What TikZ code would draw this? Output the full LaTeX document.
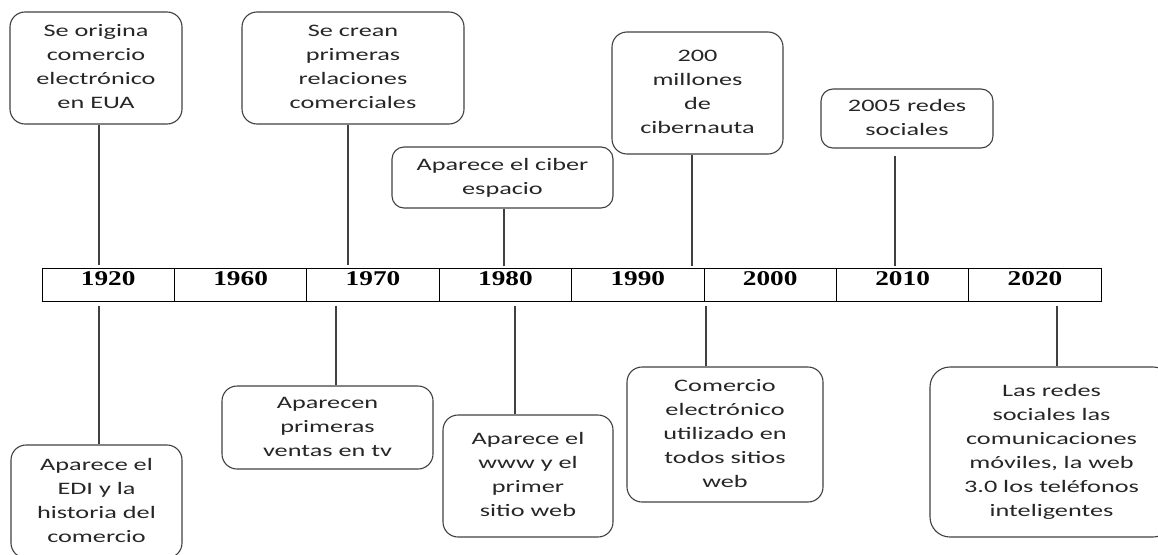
\documentclass[tikz,border=0pt]{standalone}
\usepackage{fontspec}
\setmainfont{Carlito}
\newfontfamily\yearfont{Liberation Serif}
\usepackage{graphicx}

% text of the event boxes, a little wider than tall
\newcommand{\evtext}[1]{\scalebox{1.5}[1]{\begin{tabular}{@{}c@{}}#1\end{tabular}}}
\newcommand{\yeartext}[1]{\scalebox{1.3}[1]{#1}}

\tikzset{
  event/.style={draw=black!75, line width=1.1pt, rounded corners=15pt, inner sep=0pt,
    font=\fontsize{17.5}{24}\selectfont, text=black!85},
  yearcell/.style={draw=black, line width=1pt, inner sep=0pt, minimum width=132.4pt,
    minimum height=33pt, text height=17pt, text depth=16pt, font=\yearfont\bfseries\fontsize{21}{23}\selectfont},
  link/.style={draw=black!75, line width=1.2pt}
}

\begin{document}
\begin{tikzpicture}[x=1pt, y=-1pt]
  \useasboundingbox (0,0) rectangle (1158,554);
  \clip (0,0) rectangle (1158,554);

  % Draw the year bar
  \node[yearcell] (y1920) at (108.2,284.5) {\yeartext{1920}};
  \node[yearcell] (y1960) at (240.6,284.5) {\yeartext{1960}};
  \node[yearcell] (y1970) at (373.0,284.5) {\yeartext{1970}};
  \node[yearcell] (y1980) at (505.4,284.5) {\yeartext{1980}};
  \node[yearcell] (y1990) at (637.8,284.5) {\yeartext{1990}};
  \node[yearcell] (y2000) at (770.2,284.5) {\yeartext{2000}};
  \node[yearcell] (y2010) at (902.6,284.5) {\yeartext{2010}};
  \node[yearcell] (y2020) at (1035.0,284.5) {\yeartext{2020}};

  % Draw the boxes above the bar
  \node[event, minimum width=172pt, minimum height=112pt] (up1) at (96,68)
    {\evtext{Se origina\\comercio\\electrónico\\en EUA}};
  \node[event, minimum width=222pt, minimum height=112pt] (up2) at (353,68)
    {\evtext{Se crean\\primeras\\relaciones\\comerciales}};
  \node[event, rounded corners=12pt, minimum width=221pt, minimum height=61pt] (up3) at (502.5,177.5)
    {\evtext{Aparece el ciber\\espacio}};
  \node[event, minimum width=171pt, minimum height=122pt] (up4) at (697.5,93)
    {\evtext{200\\millones\\de\\cibernauta}};
  \node[event, rounded corners=12pt, minimum width=172pt, minimum height=59pt] (up5) at (907,118.5)
    {\evtext{2005 redes\\sociales}};

  % Draw the boxes below the bar
  \node[event, minimum width=171pt, minimum height=113pt] (down1) at (96.5,501.5)
    {\evtext{Aparece el\\EDI y la\\historia del\\comercio}};
  \node[event, minimum width=211pt, minimum height=83pt] (down2) at (327.5,427.5)
    {\evtext{Aparecen\\primeras\\ventas en tv}};
  \node[event, minimum width=170pt, minimum height=122pt] (down3) at (528,476)
    {\evtext{Aparece el\\www y el\\primer\\sitio web}};
  \node[event, minimum width=196pt, minimum height=135pt] (down4) at (725,434.5)
    {\evtext{Comercio\\electrónico\\utilizado en\\todos sitios\\web}};
  \node[event, rounded corners=20pt, minimum width=243pt, minimum height=170pt] (down5) at (1051.5,452)
    {\evtext{Las redes\\sociales las\\comunicaciones\\móviles, la web\\3.0 los teléfonos\\inteligentes}};

  % Draw the lines between boxes and years
  \draw[link, shorten >=3pt] (up1.south -| 99,0) -- (y1920.north -| 99,0);
  \draw[link, shorten >=3pt] (up2.south -| 348,0) -- (y1970.north -| 348,0);
  \draw[link, shorten >=2pt] (up3.south -| 504,0) -- (y1980.north -| 504,0);
  \draw[link, shorten >=2pt] (up4.south -| 692,0) -- (y1990.north -| 692,0);
  \draw[link, shorten <=7pt, shorten >=2pt] (up5.south -| 895,0) -- (y2010.north -| 895,0);

  \draw[link, shorten <=4pt] (y1920.south -| 99,0) -- (down1.north -| 99,0);
  \draw[link, shorten <=4pt] (y1970.south -| 336,0) -- (down2.north -| 336,0);
  \draw[link, shorten <=4pt] (y1980.south -| 515,0) -- (down3.north -| 515,0);
  \draw[link, shorten <=4pt] (y2000.south -| 706,0) -- (down4.north -| 706,0);
  \draw[link, shorten <=4pt] (y2020.south -| 1057,0) -- (down5.north -| 1057,0);

\end{tikzpicture}
\end{document}
